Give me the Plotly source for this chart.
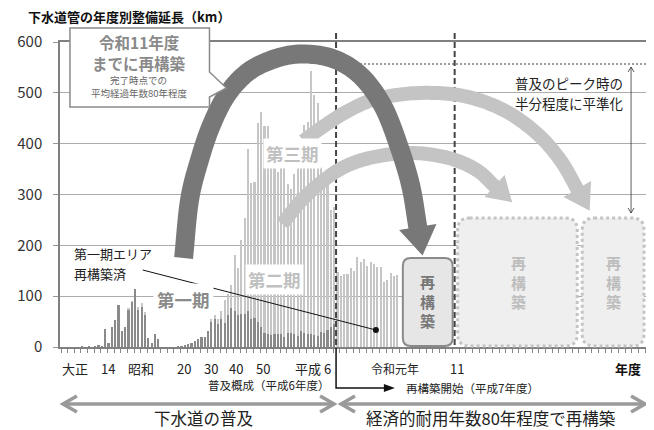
import numpy as np
import plotly.graph_objects as go

# ---------------- data (km per fiscal year) ----------------
years_phase1 = list(range(1918, 1995))
phase1_km = [1, 0, 1, 0, 1, 2, 1,
             36, 8, 39, 54, 83, 32, 40, 72, 88, 115, 72, 78, 62, 18, 8, 26, 15,
             0, 0, 0, 0, 0, 1, 1, 2,
             5, 8, 12, 16, 20, 20, 31, 50, 56, 45, 55, 47, 63, 77, 70, 62, 64, 65,
             70, 55, 58, 50, 40, 28, 25, 24, 26, 25, 25, 20, 28, 27, 25, 22, 31, 27,
             26, 26, 24, 22, 30, 28, 33, 40, 45]

years_total = list(range(1918, 1995))
total_km = [1, 0, 1, 0, 1, 2, 1, 36, 8, 39, 54, 83, 32, 40,
            76, 91, 115, 78, 86, 68, 18, 8, 26, 15,
            0, 0, 0, 0, 0, 1, 1, 2, 5, 8, 12, 16, 20, 20, 31,
            55, 62, 55, 70, 92, 105, 122, 181, 155, 210, 253, 390, 323, 325, 440,
            463, 435, 435, 355, 355, 345, 355, 355, 320, 310, 340, 355, 355, 437, 443,
            542, 496, 480, 355, 345, 322, 270, 276]

years_rebuild = list(range(1995, 2014))
rebuild_km = [148, 139, 143, 144, 156, 150, 177, 168, 173, 160, 168, 163, 158, 157,
              127, 132, 145, 139, 142]

y_ticks = [0, 100, 200, 300, 400, 500, 600]
era_labels = ["大正", "14", "昭和", "20", "30", "40", "50", "平成 6", "令和元年", "11"]
era_label_px = [75, 108, 141, 184, 212, 237, 264, 314, 396, 458]

FONT = "Noto Sans CJK JP"
# the page adds an 8px body margin, so the figure is drawn 8px smaller and
# all pixel positions below are given in page coordinates
OFF = 8
W, H = 654 - OFF, 430 - OFF
PL, PT, PR, PB = 60, 42, 648, 347          # plot area in page pixels
L, T = PL - OFF, PT - OFF
R, B = 654 - PR, 430 - PB


def X(x):
    return (x - PL) / (PR - PL)


def Y(y):
    return (PB - y) / (PB - PT)


fig = go.Figure()
fig.add_trace(go.Bar(x=years_total, y=total_km, width=0.5, marker_color="#c6c6c6",
                     marker_line_width=0, showlegend=False))
fig.add_trace(go.Bar(x=years_rebuild, y=rebuild_km, width=0.5, marker_color="#c6c6c6",
                     marker_line_width=0, showlegend=False))
fig.add_trace(go.Bar(x=years_phase1, y=phase1_km, width=0.5, marker_color="#8a8a8a",
                     marker_line_width=0, showlegend=False))

shapes = []
ann = []


def path_of(pts, close=True):
    s = "M " + " L ".join(f"{X(x):.5f},{Y(y):.5f}" for x, y in pts)
    return s + (" Z" if close else "")


def catmull(points, n=14):
    pts = np.array(points, float)
    P = np.vstack([2 * pts[0] - pts[1], pts, 2 * pts[-1] - pts[-2]])
    out = []
    for i in range(1, len(P) - 2):
        p0, p1, p2, p3 = P[i - 1], P[i], P[i + 1], P[i + 2]
        for t in np.linspace(0, 1, n, endpoint=False):
            t2, t3 = t * t, t * t * t
            out.append(0.5 * ((2 * p1) + (-p0 + p2) * t + (2 * p0 - 5 * p1 + 4 * p2 - p3) * t2
                              + (-p0 + 3 * p1 - 3 * p2 + p3) * t3))
    out.append(pts[-1])
    return np.array(out)


def band_arrow(points, width, head_len, head_w, color):
    c = catmull(points)
    d = np.gradient(c, axis=0)
    d /= np.linalg.norm(d, axis=1)[:, None]
    nrm = np.stack([-d[:, 1], d[:, 0]], axis=1)
    left = c + nrm * width / 2
    right = c - nrm * width / 2
    end, te, ne = c[-1], d[-1], nrm[-1]
    tip = end + te * head_len
    poly = list(left) + [end + ne * head_w / 2, tip, end - ne * head_w / 2] + list(right[::-1])
    shapes.append(dict(type="path", xref="paper", yref="paper", path=path_of(poly),
                       fillcolor=color, line=dict(width=0), layer="above"))


def rrect(x0, y0, x1, y1, r):
    return (f"M {X(x0 + r)},{Y(y0)} L {X(x1 - r)},{Y(y0)} Q {X(x1)},{Y(y0)} {X(x1)},{Y(y0 + r)} "
            f"L {X(x1)},{Y(y1 - r)} Q {X(x1)},{Y(y1)} {X(x1 - r)},{Y(y1)} L {X(x0 + r)},{Y(y1)} "
            f"Q {X(x0)},{Y(y1)} {X(x0)},{Y(y1 - r)} L {X(x0)},{Y(y0 + r)} Q {X(x0)},{Y(y0)} {X(x0 + r)},{Y(y0)} Z")


def line(x0, y0, x1, y1, color, width, dash="solid"):
    shapes.append(dict(type="line", xref="paper", yref="paper", x0=X(x0), y0=Y(y0), x1=X(x1), y1=Y(y1),
                       line=dict(color=color, width=width, dash=dash), layer="above"))


def txt(s, x, y, size, color="#222", bold=False, xanchor="center", bg=None, pad=1):
    ann.append(dict(text=f"<b>{s}</b>" if bold else s, x=X(x), y=Y(y), xref="paper", yref="paper",
                    xanchor=xanchor, yanchor="middle", showarrow=False,
                    font=dict(family=FONT, size=size, color=color),
                    bgcolor=bg if bg else "rgba(0,0,0,0)", borderpad=pad))


# dotted future boxes
shapes.append(dict(type="path", xref="paper", yref="paper", path=rrect(459, 218, 579, 346, 12),
                   fillcolor="#efefef", line=dict(color="#c4c4c4", width=3, dash="dot"), layer="above"))
shapes.append(dict(type="path", xref="paper", yref="paper", path=rrect(584, 218, 646, 346, 12),
                   fillcolor="#efefef", line=dict(color="#c4c4c4", width=3, dash="dot"), layer="above"))
# solid box
shapes.append(dict(type="path", xref="paper", yref="paper", path=rrect(404, 258, 454, 346, 8),
                   fillcolor="#e6e6e6", line=dict(color="#8a8a8a", width=2), layer="above"))

# dashed verticals
line(337, 33, 337, 348, "#444", 2, "6px,3px")
line(456, 33, 456, 347, "#444", 2, "6px,3px")
# dotted peak line
line(337, 64, 648, 64, "#333", 1.2, "2px,2px")
# thin vertical double arrow
line(633, 67, 633, 213, "#333", 0.8)
shapes.append(dict(type="path", xref="paper", yref="paper", path=path_of([(630, 72), (633, 67), (636, 72)], False),
                   line=dict(color="#333", width=0.8), layer="above"))
shapes.append(dict(type="path", xref="paper", yref="paper", path=path_of([(630, 208), (633, 213), (636, 208)], False),
                   line=dict(color="#333", width=0.8), layer="above"))

# light arrows
band_arrow([(283, 224), (300, 203), (320, 184), (345, 167), (375, 157), (413, 153), (450, 158),
            (478, 170), (496, 186)], 14, 24, 30, "#c4c4c4")
band_arrow([(304, 141), (322, 128), (347, 112), (377, 99), (420, 93), (465, 96), (505, 110),
            (538, 133), (562, 160), (579, 189)], 14, 25, 32, "#c4c4c4")
# dark arrow
band_arrow([(184, 258), (190, 200), (200, 160), (212, 125), (228, 94), (250, 71), (278, 58),
            (305, 54), (335, 59), (362, 76), (384, 106), (400, 146), (412, 186), (419, 227)],
           19, 29, 38, "#787878")

# callout box
shapes.append(dict(type="path", xref="paper", yref="paper",
                   path=path_of([(70, 28), (210, 28), (210, 72), (227, 88), (210, 97), (210, 107), (70, 107)]),
                   fillcolor="white", line=dict(color="#8a8a8a", width=1.5), layer="above"))

# leader line + dot
line(143, 270, 377, 330, "#111", 1)
shapes.append(dict(type="circle", xref="paper", yref="paper", x0=X(374), x1=X(380), y0=Y(327), y1=Y(333),
                   fillcolor="#111", line=dict(width=0), layer="above"))

# start bracket
shapes.append(dict(type="path", xref="paper", yref="paper", path=path_of([(337, 348), (337, 388), (388, 388)], False),
                   line=dict(color="#111", width=1.5), layer="above"))
shapes.append(dict(type="path", xref="paper", yref="paper", path=path_of([(385, 384), (396, 388), (385, 392)]),
                   fillcolor="#111", line=dict(width=0), layer="above"))

# bottom double arrows
for xa, xb in [(63, 335), (342, 647)]:
    line(xa + 1, 404, xb - 1, 404, "#9a9a9a", 3.5)
    shapes.append(dict(type="path", xref="paper", yref="paper",
                       path=path_of([(xa + 14, 396), (xa, 404), (xa + 14, 412)], False),
                       line=dict(color="#9a9a9a", width=3.5), layer="above"))
    shapes.append(dict(type="path", xref="paper", yref="paper",
                       path=path_of([(xb - 14, 396), (xb, 404), (xb - 14, 412)], False),
                       line=dict(color="#9a9a9a", width=3.5), layer="above"))

# ---------------- texts ----------------
txt("下水道管の年度別整備延長（km）", 27, 17, 13, "#111", bold=True, xanchor="left", pad=0)
txt("令和11年度", 140, 42, 15.5, "#8a8a8a", bold=True)
txt("までに再構築", 139, 63, 15.5, "#8a8a8a", bold=True)
txt("完了時点での", 139, 80, 9.5, "#666")
txt("平均経過年数80年程度", 140, 93, 9.5, "#666")
txt("普及のピーク時の", 571, 83, 13.5, "#222")
txt("半分程度に平準化", 571, 103, 13.5, "#222")
txt("第三期", 293, 153, 17.5, "#c0c0c0", bold=True, bg="white", pad=2)
txt("第二期", 275, 279, 17.5, "#c0c0c0", bold=True, bg="white", pad=2)
txt("第一期", 184, 299, 17.5, "#8a8a8a", bold=True, bg="white", pad=3)
txt("第一期エリア", 72, 253, 13, "#222", xanchor="left")
txt("再構築済", 72, 273, 13, "#222", xanchor="left")
txt("再<br>構<br>築", 429, 301, 15, "#777", bold=True)
txt("再<br>構<br>築", 520, 282, 15, "#bdbdbd", bold=True)
txt("再<br>構<br>築", 615, 282, 15, "#bdbdbd", bold=True)

for lab, xp in zip(era_labels, era_label_px):
    txt(lab, xp, 368, 12 if lab == "令和元年" else 13, "#222")
txt("年度", 630, 368, 13, "#111", bold=True)
txt("普及概成（平成6年度）", 269, 385, 11.5, "#222")
txt("再構築開始（平成7年度）", 474, 388, 11.5, "#222")
txt("下水道の普及", 204, 418, 16.5, "#222", pad=0)
txt("経済的耐用年数80年程度で再構築", 492, 418, 16.5, "#222", pad=0)

fig.update_layout(
    width=W, height=H, margin=dict(l=L, r=R, t=T, b=B, pad=0),
    plot_bgcolor="white", paper_bgcolor="white", barmode="overlay", bargap=0,
    shapes=shapes, annotations=ann, showlegend=False,
    font=dict(family=FONT),
    xaxis=dict(range=[1911.3, 2087.9], showgrid=False, zeroline=False, showticklabels=False,
               ticks="outside", ticklen=4, tickcolor="#888", tick0=1911.6, dtick=2,
               showline=True, linecolor="#808080", linewidth=1.5, mirror=True),
    yaxis=dict(range=[0, 600], tickvals=y_ticks, showgrid=True, gridcolor="#ababab", gridwidth=1,
               zeroline=False, ticks="outside", ticklen=5, tickcolor="#999",
               tickfont=dict(family=FONT, size=15, color="#333"), ticklabelstandoff=8,
               showline=True, linecolor="#808080", linewidth=1.5, mirror=True),
)

fig.write_html("out.html")
